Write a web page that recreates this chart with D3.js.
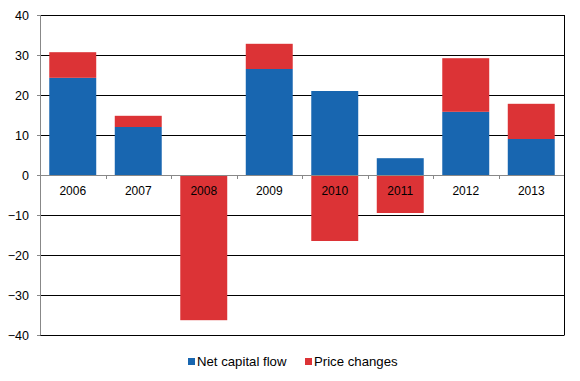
<!DOCTYPE html>
<html>
<head>
<meta charset="utf-8">
<script src="https://cdn.jsdelivr.net/npm/d3@7"></script>
<style>
  body { margin: 0; background: #fff; }
  text { font-family: "Liberation Sans", Arial, sans-serif; font-size: 12px; fill: #000; }
</style>
</head>
<body>
<div id="chart"></div>
<script>
// data
var years = ["2006", "2007", "2008", "2009", "2010", "2011", "2012", "2013"];
var netCapitalFlow = [24.3, 12.0, 0, 26.5, 21.0, 4.2, 15.8, 9.0];
var priceChanges = [6.4, 2.8, -36.3, 6.3, -16.5, -9.5, 13.4, 8.8];
var seriesNames = ["Net capital flow", "Price changes"];
var yTicks = [-40, -30, -20, -10, 0, 10, 20, 30, 40];

var colors = ["#1866b0", "#dc3336"];

var margin = {top: 15, right: 16, bottom: 46, left: 40},
    width = 580 - margin.left - margin.right,
    height = 381 - margin.top - margin.bottom;

var svg = d3.select("#chart")
  .append("svg")
    .attr("width", 580)
    .attr("height", 381);

var g = svg.append("g")
  .attr("transform", "translate(" + margin.left + "," + margin.top + ")");

var x = d3.scaleBand().domain(years).range([0, width]).paddingInner(0.283).paddingOuter(0.1415);
var xb = d3.scaleBand().domain(years).range([0, width]);
var y = d3.scaleLinear().domain([-40, 40]).range([height, 0]);

// build table for stacking
var table = years.map(function(d, i) {
  return {year: d, "Net capital flow": netCapitalFlow[i], "Price changes": priceChanges[i]};
});
var stack = d3.stack().keys(seriesNames).offset(d3.stackOffsetDiverging);
var layers = stack(table);

// gridlines
g.selectAll(".grid")
  .data(yTicks.filter(function(d) { return d !== 0; }))
  .enter().append("line")
    .attr("x1", 0).attr("x2", width)
    .attr("y1", function(d) { return Math.round(y(d)) + 0.5; })
    .attr("y2", function(d) { return Math.round(y(d)) + 0.5; })
    .attr("stroke", "#000").attr("stroke-width", 1);

// right border
g.append("line")
  .attr("x1", width + 0.5).attr("x2", width + 0.5)
  .attr("y1", 0).attr("y2", height + 0.5)
  .attr("stroke", "#000");

// bars
g.selectAll(".layer")
  .data(layers)
  .enter().append("g")
    .attr("fill", function(d, i) { return colors[i]; })
  .selectAll("rect")
  .data(function(d) { return d; })
  .enter().append("rect")
    .attr("x", function(d) { return x(d.data.year); })
    .attr("width", x.bandwidth())
    .attr("y", function(d) { return y(Math.max(d[0], d[1])); })
    .attr("height", function(d) { return Math.abs(y(d[0]) - y(d[1])); });

// y axis
var yAxis = g.append("g")
  .call(d3.axisLeft(y).tickValues(yTicks).tickSize(3).tickPadding(8));
yAxis.select(".domain").attr("stroke", "#888").attr("d", "M0.5,0V" + (height + 0.5));
yAxis.selectAll(".tick line").attr("stroke", "#888");
yAxis.selectAll("text").style("font-size", "12.5px").attr("font-family", null);

// zero line and category ticks
g.append("line")
  .attr("x1", 0).attr("x2", width)
  .attr("y1", Math.round(y(0)) + 0.5).attr("y2", Math.round(y(0)) + 0.5)
  .attr("stroke", "#888");

g.selectAll(".xtick")
  .data(years.slice(1))
  .enter().append("line")
    .attr("x1", function(d) { return Math.round(xb(d)) + 0.5; })
    .attr("x2", function(d) { return Math.round(xb(d)) + 0.5; })
    .attr("y1", y(0)).attr("y2", y(0) + 4)
    .attr("stroke", "#888");

g.selectAll(".xlabel")
  .data(years)
  .enter().append("text")
    .attr("x", function(d) { return xb(d) + xb.bandwidth() / 2; })
    .attr("y", y(0) + 20)
    .attr("text-anchor", "middle")
    .text(function(d) { return d; });

// legend
var legend = svg.append("g");
var legendX = [188, 305];
seriesNames.forEach(function(name, i) {
  legend.append("rect")
    .attr("x", legendX[i]).attr("y", 358)
    .attr("width", 7).attr("height", 7)
    .attr("fill", colors[i]);
  legend.append("text")
    .attr("x", legendX[i] + 9).attr("y", 366)
    .style("font-size", "13.2px")
    .text(name);
});
</script>
</body>
</html>
